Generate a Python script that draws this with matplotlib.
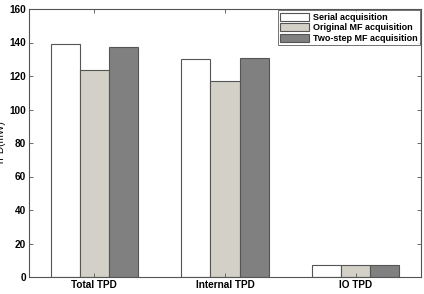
import numpy as np
import matplotlib
matplotlib.use("Agg")
import matplotlib.pyplot as plt

# ----------------------------
# Data
# ----------------------------
categories = ["Total TPD", "Internal TPD", "IO TPD"]
series_names = ["Serial acquisition", "Original MF acquisition", "Two-step MF acquisition"]
serial   = [139.0, 130.0, 7.0]
original = [123.5, 117.0, 7.0]
twostep  = [137.5, 130.5, 7.0]
colors = ["#ffffff", "#d3d1c7", "#808080"]

plt.rcParams["font.family"] = ["Liberation Sans", "DejaVu Sans"]
plt.rcParams["font.size"] = 6.5
plt.rcParams["font.weight"] = "bold"

fig = plt.figure(figsize=(4.24, 2.94), dpi=100)
ax = fig.add_axes([29 / 424, 17 / 294, 392 / 424, 268 / 294])

x = np.arange(1, len(categories) + 1)
w = 0.222
for i, (vals, name) in enumerate(zip([serial, original, twostep], series_names)):
    ax.bar(x + (i - 1) * w, vals, width=w, color=colors[i],
           edgecolor="#555555", linewidth=0.8, label=name)

ax.set_xlim(0.5, 3.5)
ax.set_ylim(0, 160)
ax.set_xticks(x)
ax.set_xticklabels(categories)
ax.set_yticks(np.arange(0, 161, 20))
ax.tick_params(direction="in", top=True, right=True, length=3, width=0.6,
               color="#555555", pad=2, labelsize=7.2)
for s in ax.spines.values():
    s.set_color("#555555")
    s.set_linewidth(0.8)
ax.set_ylabel("TPD(mW)", fontsize=7.2)
ax.yaxis.set_label_coords(-0.06, 0.5)

leg = ax.legend(loc="upper right", frameon=True, fancybox=False,
                borderpad=0.3, handlelength=3.2, handleheight=1.0,
                labelspacing=0.15, handletextpad=0.4, borderaxespad=0.1)
leg.get_frame().set_edgecolor("#333333")
leg.get_frame().set_linewidth(0.6)

fig.savefig("out.png", dpi=100)
